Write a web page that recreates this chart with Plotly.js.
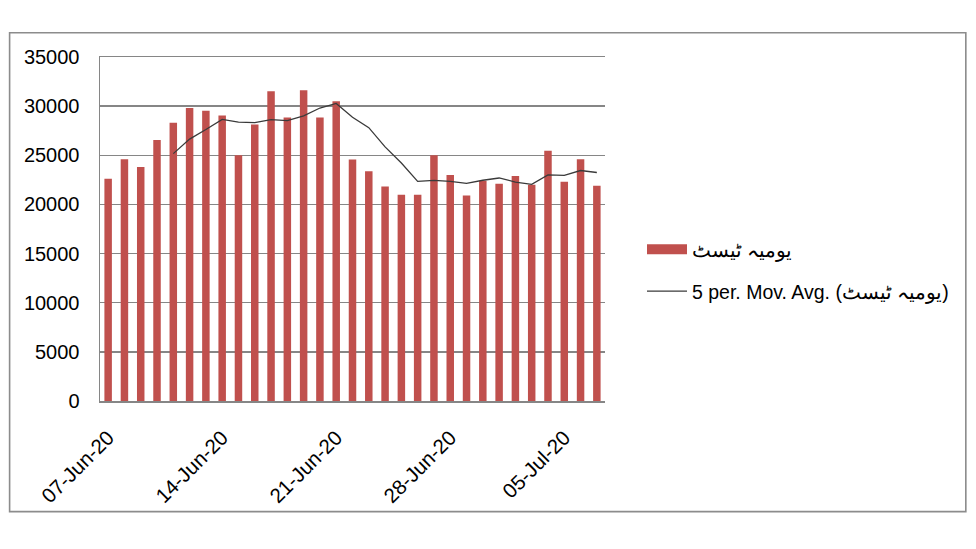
<!DOCTYPE html>
<html>
<head>
<meta charset="utf-8">
<script src="https://cdn.plot.ly/plotly-3.0.1.min.js"></script>
<style>html,body{margin:0;padding:0;background:#fff;}#chart{width:976px;height:549px;}</style>
</head>
<body>
<div id="chart"></div>
<script>
const dates = ["2020-06-07","2020-06-08","2020-06-09","2020-06-10","2020-06-11","2020-06-12","2020-06-13","2020-06-14","2020-06-15","2020-06-16","2020-06-17","2020-06-18","2020-06-19","2020-06-20","2020-06-21","2020-06-22","2020-06-23","2020-06-24","2020-06-25","2020-06-26","2020-06-27","2020-06-28","2020-06-29","2020-06-30","2020-07-01","2020-07-02","2020-07-03","2020-07-04","2020-07-05","2020-07-06","2020-07-07"];
const dailyTests = [22600,24600,23800,26550,28300,29800,29530,29050,25000,28140,31520,28850,31620,28850,30510,24560,23380,21820,20980,20980,25000,23000,20910,22400,22100,22900,22000,25470,22300,24600,21900];
const movAvg = [null,null,null,null,25170,26650,27620,28650,28380,28320,28630,28530,29020,29810,30270,28860,27810,25850,24220,22350,22450,22340,22150,22460,22690,22280,22050,23010,22950,23450,23250];
const tickVals = ["2020-06-07","2020-06-14","2020-06-21","2020-06-28","2020-07-05"];
const tickText = ["07-Jun-20","14-Jun-20","21-Jun-20","28-Jun-20","05-Jul-20"];
const seriesName = "یومیہ ٹیسٹ";
const avgName = "5 per. Mov. Avg. (یومیہ ٹیسٹ)";

const red = "#C0504D";
const grid = "#868686";
const font = "Liberation Sans, Arial, sans-serif";

const traces = [
  {type:"bar", x:dates, y:dailyTests, marker:{color:red, line:{width:0}}, width:0.46*86400000, showlegend:false, name:seriesName, hoverinfo:"x+y"},
  {type:"scatter", mode:"lines", x:[null], y:[null], line:{color:red, width:11}, name:seriesName, legend:"legend", showlegend:true, hoverinfo:"skip"},
  {type:"scatter", mode:"lines", x:dates, y:movAvg, line:{color:"#3a3a3a", width:1.3}, name:avgName, legend:"legend2", showlegend:true, connectgaps:false}
];

const layout = {
  width:976, height:549,
  margin:{l:100, r:371, t:57, b:148},
  paper_bgcolor:"#fff", plot_bgcolor:"#fff",
  font:{family:font, size:19, color:"#000"},
  xaxis:{
    type:"date",
    range:["2020-06-06 12:00","2020-07-07 12:00"],
    tickvals:tickVals, ticktext:tickText,
    tickangle:-45, showgrid:false, showline:true, mirror:true, linecolor:grid, linewidth:1.5,
    ticks:"", ticklabelstandoff:15, zeroline:false,
    tickfont:{family:font, size:20.5, color:"#000"}
  },
  yaxis:{
    range:[0,35000], dtick:5000, tick0:0, tickformat:"d", showgrid:true, gridcolor:grid, gridwidth:1.5,
    showline:true, linecolor:grid, linewidth:1.5, zeroline:false, ticks:"",
    ticklabelstandoff:15, tickfont:{family:font, size:20, color:"#000"}
  },
  legend:{xref:"paper", yref:"paper", xanchor:"left", yanchor:"top", itemwidth:40, bgcolor:"rgba(0,0,0,0)", font:{family:font, size:19.5, color:"#000"}},
  legend2:{xanchor:"left", yanchor:"top", itemwidth:40, bgcolor:"rgba(0,0,0,0)", font:{family:font, size:19.5, color:"#000"}},
  shapes:[
    {type:"rect", xref:"paper", yref:"paper", x0:-0.179, x1:1.7145, y0:-0.3215, y1:1.0706, line:{color:"#8C8C8C", width:1.6}, fillcolor:"rgba(0,0,0,0)", layer:"below"}
  ],
  showlegend:true
};
// legend positions in paper coords (plot area x:100-605, y:57-401)
layout.legend.x = (642-100)/505; layout.legend.y = 1-(230-57)/344;
layout.legend2.x = (642-100)/505; layout.legend2.y = 1-(272-57)/344;

Plotly.newPlot("chart", traces, layout, {displayModeBar:false, staticPlot:true});
</script>
</body>
</html>
